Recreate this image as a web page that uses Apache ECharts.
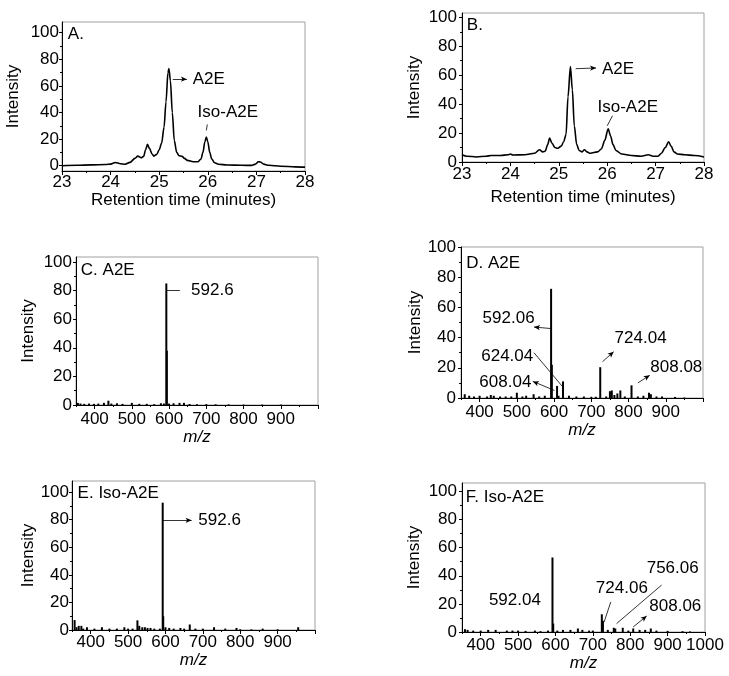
<!DOCTYPE html>
<html><head><meta charset="utf-8">
<script src="https://cdn.jsdelivr.net/npm/echarts@6/dist/echarts.min.js"></script>
<style>html,body{margin:0;padding:0;background:#fff}#c{width:729px;height:676px}</style>
</head><body><div id="c"></div>
<script>
// ---- Panel A: chromatogram ----
const timeA = [23.0,23.3,23.6,23.9,24.0,24.1,24.2,24.3,24.4,24.5,24.56,24.63,24.68,24.72,24.76,24.8,24.85,24.89,24.95,25.0,25.05,25.1,25.14,25.18,25.2,25.23,25.27,25.31,25.36,25.41,25.47,25.52,25.58,25.7,25.8,25.86,25.9,25.94,25.97,26.0,26.04,26.08,26.14,26.22,26.4,26.7,26.9,26.98,27.04,27.08,27.15,27.25,27.5,27.8,28.0];
const intensityA = [0,0.3,0.6,0.9,1.2,2.4,1.5,1.1,2.5,5.5,7.2,6,7,12,16,13,9,7.2,8.5,12,17,29,48,70,73,64,40,19,10,7.5,7,5.5,4,3,3,5,10,18,21.5,18,10,5,2.2,1.1,0.5,0.3,0.2,1.2,2.9,2.8,1.2,0.3,-0.4,-0.9,-1.1];
// ---- Panel B: chromatogram ----
const timeB = [23.0,23.1,23.3,23.5,23.6,23.8,23.95,24.0,24.05,24.3,24.5,24.6,24.67,24.72,24.77,24.81,24.86,24.92,24.98,25.05,25.1,25.15,25.19,25.24,25.28,25.32,25.37,25.42,25.48,25.53,25.58,25.65,25.8,25.88,25.95,26.02,26.07,26.12,26.18,26.3,26.5,26.7,26.85,26.95,27.05,27.12,27.2,27.27,27.32,27.38,27.45,27.6,27.8,28.0];
const intensityB = [5,4,3.5,4,4.5,4.5,5,5.5,4.8,5,6,8.5,7,7.5,12,16.5,13,10,9.5,11,14,19,45,66,50,25,12,8,7,8.5,7,6,7,9,15,23,18,12,8,5.5,4.5,4,5,4,4,6,10,14,11,7,5.5,5,4.5,3.5];
// ---- Panel C: ESI-MS, A2E ----
const mzC = [355,362,372,385,398,410,425,437,445,460,475,500,520,540,560,578,586,592.6,594,600,612,628,640,655,675,700,725,760,800,850,900];
const intC = [1.5,1,0.8,1,0.8,1,1.5,3,1,1.2,0.8,1.5,0.8,0.8,0.6,1.2,1,85,38,1,1.2,1.5,1.5,0.7,0.6,0.6,0.5,0.4,0.3,0.3,0.3];
// ---- Panel D: MS, A2E ----
const mzD = [360,372,385,400,420,430,438,455,470,485,500,515,525,545,560,575,592,594,608,612,624,640,660,680,700,712,724,740,750,755,762,770,778,790,808,825,840,855,860,875,890,925,950];
const intD = [2.5,1.5,1,1.5,1,2,1.5,1,1,1,3.5,1,1.5,2.5,1,1.5,72.3,22,8,1.5,11,1.5,1,1,0.8,0.8,20.4,1,4.5,5,2,3,5,1,8.4,1,1.5,3.5,2.5,1,1,0.7,0.3];
// ---- Panel E: ESI-MS, Iso-A2E ----
const mzE = [357,362,368,375,380,390,410,430,450,470,490,500,512,525,530,538,545,552,560,570,585,592.6,594,600,610,622,640,650,665,680,700,730,760,790,800,830,860,900,955];
const intE = [7.2,2,3,3,1,2,1,2,1,1,2,1,1,7,3,2,2,1.5,1.5,1,1,92.3,10,2,1.5,1,1.5,1,4,1,1,2,1,1.5,0.5,0.5,1,0.5,2];
// ---- Panel F: MS, Iso-A2E ----
const mzF = [358,365,380,400,420,440,470,485,500,520,545,560,580,592,594,605,620,640,660,672,690,700,724,727,740,756,760,780,795,808,825,840,855,870,900,940,960];
const intF = [2,1.5,1,1,1.5,1.5,1,1,1,0.8,1,0.6,1,53,6,1,1.5,1.5,2.5,1.5,1,1,12.6,8,1.5,3,2.5,3,1,2.5,1.5,1.5,2.5,1,0.8,0.6,0.4];
// ---- tick labels ----
const timeTicks = [23,24,25,26,27,28];
const timeMinor = [23.5,24.5,25.5,26.5,27.5];
const mzTicks = [400,500,600,700,800,900,1000];
const mzLabels = [400,500,600,700,800,900];
const mzLabelsF = [400,500,600,700,800,900,1000];
const mzMinor = [350,450,550,650,750,850,950];
const yTicks = [0,20,40,60,80,100];
const yMinor = [10,30,50,70,90];

const FONT = '"Liberation Sans", Arial, sans-serif';
const zip = (a, b) => a.map((v, i) => [v, b[i]]);

const panels = [
  { grid:{left:62,top:22,width:243,height:149}, kind:'line', data:zip(timeA,intensityA),
    xmin:23,xmax:28,xt:timeTicks,xl:timeTicks,xm:timeMinor,xname:'Retention time (minutes)',xgap:20,xmar:3,italic:false,
    ymin:-4,ymax:108,ygap:40,ymar:3,
    notes:[{t:'A.',x:23.12,y:98.8,a:'left'},{t:'A2E',x:25.69,y:65,a:'left'},{t:'Iso-A2E',x:25.79,y:40,a:'left'}],
    arrows:[{f:[25.28,65],to:[25.57,65],h:true},{f:[25.97,26.5],to:[25.99,31],h:false}] },
  { grid:{left:462,top:13,width:242,height:149}, kind:'line', data:zip(timeB,intensityB),
    xmin:23,xmax:28,xt:timeTicks,xl:timeTicks,xm:timeMinor,xname:'Retention time (minutes)',xgap:27,xmar:4,italic:false,
    ymin:0,ymax:103,ygap:39,ymar:5,
    notes:[{t:'B.',x:23.1,y:94.7,a:'left'},{t:'A2E',x:25.89,y:64,a:'left'},{t:'Iso-A2E',x:25.8,y:38,a:'left'}],
    arrows:[{f:[25.35,64.5],to:[25.77,65],h:true},{f:[26.0,25],to:[26.11,32],h:false}] },
  { grid:{left:76,top:257,width:242,height:148}, kind:'bar', data:zip(mzC,intC),
    xmin:350,xmax:1000,xt:mzTicks,xl:mzLabels,xm:mzMinor,xname:'m/z',xgap:21,xmar:6,italic:true,
    ymin:0,ymax:103.5,ygap:39,ymar:4,
    notes:[{t:'C. A2E',x:363,y:94,a:'left'},{t:'592.6',x:659,y:80,a:'left'}],
    arrows:[{f:[594,80],to:[629,80],h:false}] },
  { grid:{left:461,top:247,width:242,height:151}, kind:'bar', data:zip(mzD,intD),
    xmin:350,xmax:1000,xt:mzTicks,xl:mzLabels,xm:mzMinor,xname:'m/z',xgap:17,xmar:6,italic:true,
    ymin:0,ymax:100,ygap:37,ymar:5,
    notes:[{t:'D. A2E',x:364,y:89.4,a:'left'},{t:'592.06',x:547.7,y:52.8,a:'right'},{t:'624.04',x:544,y:27.3,a:'right'},
           {t:'608.04',x:539,y:10.6,a:'right'},{t:'724.04',x:762.6,y:39.5,a:'left'},{t:'808.08',x:858.5,y:20.6,a:'left'}],
    arrows:[{f:[591,46],to:[546,47],h:true},{f:[621,8],to:[546,30],h:false},{f:[601,5],to:[543,11],h:true},
            {f:[730,24],to:[760,30.6],h:true},{f:[825,10],to:[857,15],h:true}] },
  { grid:{left:72,top:481,width:243,height:149}, kind:'bar', data:zip(mzE,intE),
    xmin:350,xmax:1000,xt:mzTicks,xl:mzLabels,xm:mzMinor,xname:'m/z',xgap:19,xmar:4,italic:true,
    ymin:0,ymax:108,ygap:34,ymar:3,
    notes:[{t:'E. Iso-A2E',x:365,y:99,a:'left'},{t:'592.6',x:688,y:79.5,a:'left'}],
    arrows:[{f:[593,79.5],to:[670,79.5],h:true}] },
  { grid:{left:462,top:483,width:243,height:149}, kind:'bar', data:zip(mzF,intF),
    xmin:350,xmax:1000,xt:mzTicks,xl:mzLabelsF,xm:mzMinor,xname:'m/z',xgap:22,xmar:5,italic:true,
    ymin:0,ymax:106,ygap:39,ymar:5,
    notes:[{t:'F. Iso-A2E',x:360,y:96,a:'left'},{t:'592.04',x:422,y:22.6,a:'left'},{t:'724.06',x:708,y:31,a:'left'},
           {t:'756.06',x:844,y:45,a:'left'},{t:'808.06',x:851,y:18,a:'left'}],
    arrows:[{f:[730,7],to:[748,21.4],h:false},{f:[763.5,6],to:[884,33.4],h:false},{f:[808,3.6],to:[844,11.4],h:true}] }
];

const plain = v => String(v);
const grid = [], xAxis = [], yAxis = [], series = [];
panels.forEach((p, i) => {
  grid.push(Object.assign({show:true,borderColor:'#a0a0a0',borderWidth:1,backgroundColor:'transparent',outerBoundsMode:'none',containLabel:false}, p.grid));
  const gi = i;
  xAxis.push({type:'value',gridIndex:gi,min:p.xmin,max:p.xmax,position:'bottom',
    axisLine:{show:true,onZero:false,lineStyle:{color:'#000',width:1}},
    axisTick:{show:true,inside:false,length:4,customValues:p.xt,lineStyle:{color:'#000'}},
    axisLabel:{show:true,customValues:p.xl,formatter:plain,margin:p.xmar,color:'#000',fontSize:17,fontFamily:FONT},
    splitLine:{show:false},
    name:p.xname,nameLocation:'middle',nameGap:p.xgap,
    nameTextStyle:{color:'#000',fontSize:17,fontFamily:FONT,fontStyle:p.italic?'italic':'normal'}});
  xAxis.push({type:'value',gridIndex:gi,min:p.xmin,max:p.xmax,position:'bottom',
    axisLine:{show:false,onZero:false},axisLabel:{show:false},splitLine:{show:false},
    axisTick:{show:true,inside:false,length:2,customValues:p.xm,lineStyle:{color:'#000'}}});
  yAxis.push({type:'value',gridIndex:gi,min:p.ymin,max:p.ymax,position:'left',
    axisLine:{show:true,onZero:false,lineStyle:{color:'#000',width:1}},
    axisTick:{show:true,inside:false,length:3,customValues:yTicks,lineStyle:{color:'#000'}},
    axisLabel:{show:true,customValues:yTicks,formatter:plain,margin:p.ymar,color:'#000',fontSize:17,fontFamily:FONT},
    splitLine:{show:false},
    name:'Intensity',nameLocation:'middle',nameGap:p.ygap,
    nameTextStyle:{color:'#000',fontSize:17,fontFamily:FONT}});
  yAxis.push({type:'value',gridIndex:gi,min:p.ymin,max:p.ymax,position:'left',
    axisLine:{show:false,onZero:false},axisLabel:{show:false},splitLine:{show:false},
    axisTick:{show:true,inside:false,length:2,customValues:yMinor,lineStyle:{color:'#000'}}});

  const markPoint = {silent:true,animation:false,symbol:'circle',symbolSize:0,
    data:p.notes.map(n => ({coord:[n.x,n.y],value:n.t,
      label:{show:true,position:'inside',formatter:n.t,align:n.a,verticalAlign:'middle',color:'#000',fontSize:17,fontFamily:FONT}}))};
  const markLine = {silent:true,animation:false,symbol:['none','none'],label:{show:false},
    lineStyle:{color:'#000',width:0.8,type:'solid'},
    data:p.arrows.map(a => [{coord:a.f,symbol:'none'},{coord:a.to,symbol:a.h?'arrow':'none',symbolSize:[4,6]}])};
  const base = {xAxisIndex:2*i,yAxisIndex:2*i,data:p.data,animation:false,silent:true,markPoint,markLine};
  if (p.kind === 'line') {
    series.push(Object.assign(base,{type:'line',showSymbol:false,smooth:0.3,smoothMonotone:'x',
      lineStyle:{color:'#000',width:1.6},itemStyle:{color:'#000'}}));
  } else {
    series.push(Object.assign(base,{type:'bar',barWidth:2,itemStyle:{color:'#000'}}));
  }
});

const chart = echarts.init(document.getElementById('c'), null, {renderer:'canvas'});
chart.setOption({animation:false,backgroundColor:'#fff',grid,xAxis,yAxis,series});
</script>
</body></html>
